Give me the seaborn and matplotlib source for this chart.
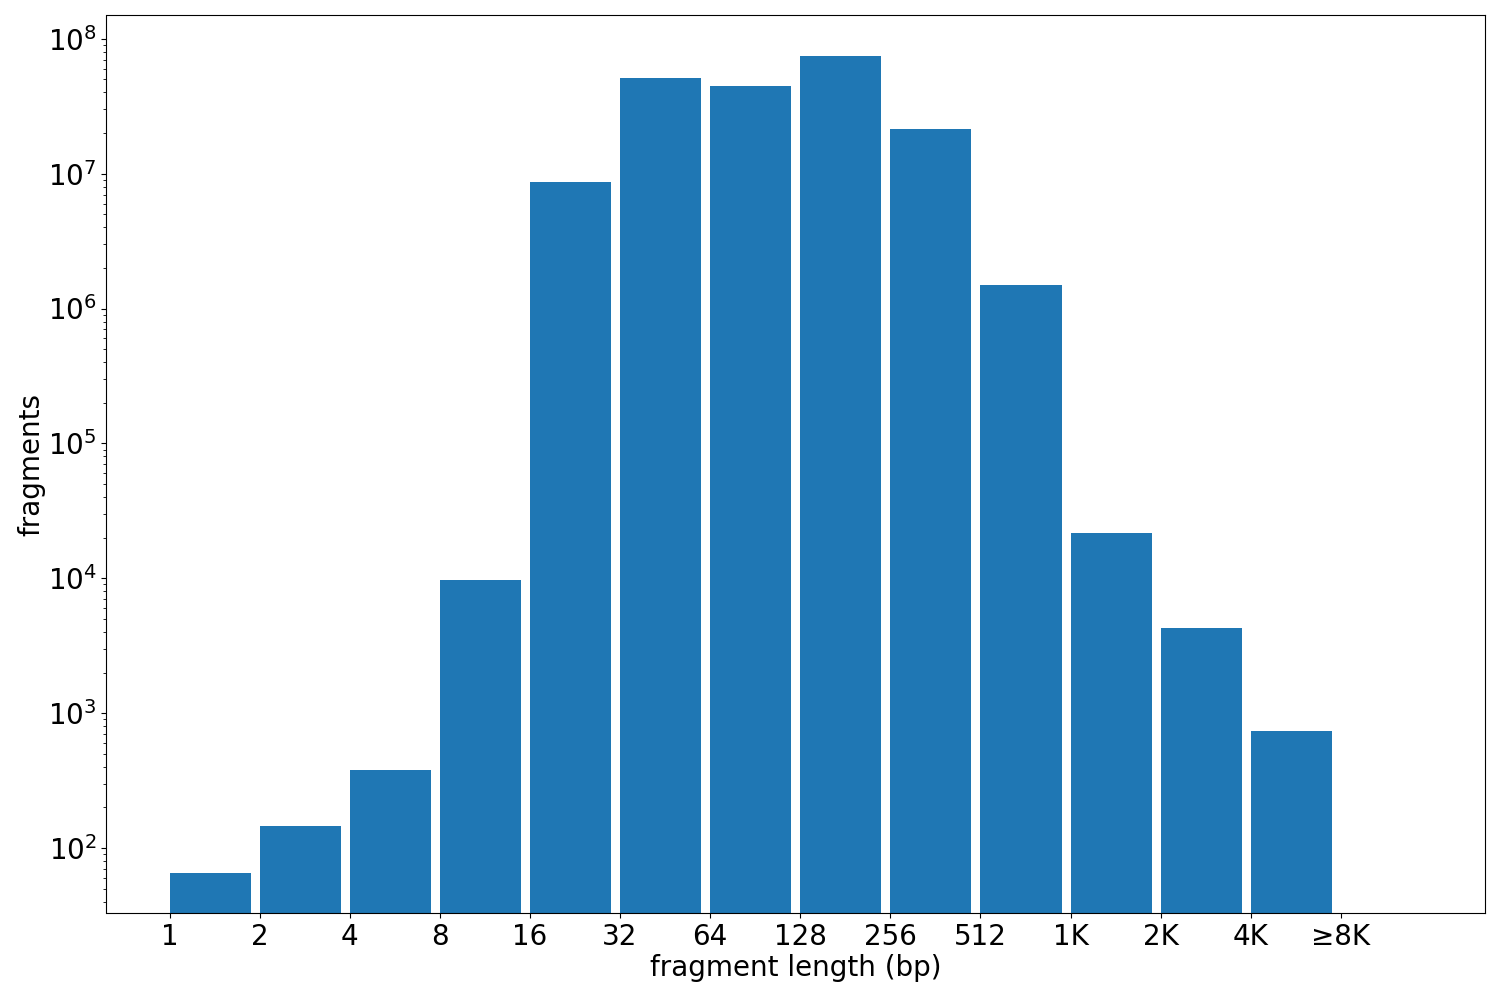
import matplotlib
matplotlib.use("Agg")
import matplotlib.pyplot as plt
import seaborn as sns
import numpy as np

tick_labels = ["1", "2", "4", "8", "16", "32", "64", "128", "256", "512", "1K", "2K", "4K", "≥8K"]
counts = [65, 146, 378, 9700, 8.6e6, 5.1e7, 4.5e7, 7.4e7, 2.15e7, 1.5e6, 2.15e4, 4.3e3, 735]

plt.rcParams.update({"font.size": 20})
fig, ax = plt.subplots(figsize=(15, 10), dpi=100)
color = sns.color_palette("tab10")[0]
ax.bar(np.arange(len(counts)), counts, width=0.9, align="edge", color=color)
ax.set_yscale("log")
ax.set_ylim(33, 1.5e8)
ax.set_xlim(-0.7, 14.6)
ax.set_xticks(np.arange(len(tick_labels)))
ax.set_xticklabels(tick_labels)
ax.set_xlabel("fragment length (bp)", labelpad=2)
ax.set_ylabel("fragments", labelpad=2)
fig.subplots_adjust(left=0.071, right=0.99, top=0.985, bottom=0.087)
fig.savefig("out.png")
